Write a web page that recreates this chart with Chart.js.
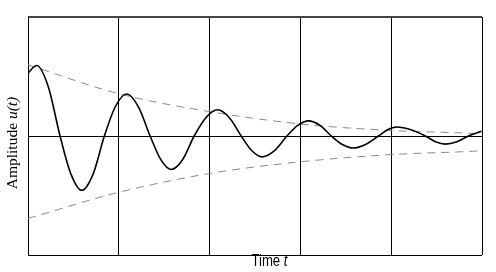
<!DOCTYPE html>
<html><head><meta charset="utf-8">
<script src="https://cdn.jsdelivr.net/npm/chart.js@4/dist/chart.umd.min.js"></script>
<style>html,body{margin:0;padding:0;background:#fff;}#wrap{width:496px;height:272px;}</style>
</head><body><div id="wrap"><canvas id="c" width="496" height="272"></canvas></div>
<script>
// Time grid (periods)
const timeTicks = [0, 1, 2, 3, 4, 5];
// Damped oscillation
const signalT = [0, 0.096, 0.225, 0.353, 0.473, 0.592, 0.717, 0.841, 0.964, 1.086, 1.216, 1.345, 1.461, 1.577, 1.704, 1.830, 1.959, 2.087, 2.218, 2.348, 2.463, 2.577, 2.715, 2.852, 2.971, 3.090, 3.216, 3.341, 3.462, 3.583, 3.718, 3.860, 3.960, 4.059, 4.218, 4.377, 4.487, 4.597, 4.724, 4.851, 4.955, 4.995];
const signalU = [0.530, 0.592, 0.41, 0, -0.32, -0.456, -0.32, 0, 0.25, 0.353, 0.245, 0, -0.197, -0.281, -0.197, 0, 0.154, 0.220, 0.154, 0, -0.122, -0.175, -0.122, 0, 0.089, 0.127, 0.089, 0, -0.071, -0.101, -0.071, 0, 0.053, 0.076, 0.053, 0, -0.048, -0.068, -0.048, 0, 0.030, 0.040];
// Envelope (dashed)
const envT = [0, 1, 2, 3, 4, 5, 5.12];
const envUpper = [0.598, 0.355, 0.205, 0.101, 0.046, 0.017, 0.008];
const envLower = [-0.693, -0.473, -0.315, -0.217, -0.156, -0.123, -0.114];
// Axis titles (normal part, italic part)
const yTitle = ['Amplitude ', 'u(t)'];
const xTitle = ['Time ', 't'];

const toXY = (xs, ys) => xs.map((x, i) => ({x: x, y: ys[i]}));

const titlePlugin = {
  id: 'titles',
  afterDraw(chart) {
    const ctx = chart.ctx;
    const a = chart.chartArea;
    // Y title
    ctx.save();
    ctx.fillStyle = '#000';
    ctx.textBaseline = 'alphabetic';
    ctx.translate(16.5, (a.top + a.bottom) / 2 + 7);
    ctx.rotate(-Math.PI / 2);
    const fN = '15.5px "Liberation Serif", "DejaVu Serif", serif';
    const fI = 'italic 15.5px "Liberation Serif", "DejaVu Serif", serif';
    ctx.font = fN; const w1 = ctx.measureText(yTitle[0]).width;
    ctx.font = fI; const w2 = ctx.measureText(yTitle[1]).width;
    let x0 = -(w1 + w2) / 2;
    ctx.font = fN; ctx.fillText(yTitle[0], x0, 0);
    ctx.font = fI; ctx.fillText(yTitle[1], x0 + w1, 0);
    ctx.restore();
    // X title (condensed sans)
    ctx.save();
    ctx.fillStyle = '#000';
    ctx.textBaseline = 'alphabetic';
    ctx.translate(251.5, 266);
    ctx.scale(0.82, 1);
    const gN = '16px "Liberation Sans", Arial, sans-serif';
    const gI = 'italic 16px "Liberation Sans", Arial, sans-serif';
    ctx.font = gN; const v1 = ctx.measureText(xTitle[0]).width;
    ctx.fillText(xTitle[0], 0, 0);
    ctx.font = gI; ctx.fillText(xTitle[1], v1, 0);
    ctx.restore();
  }
};

new Chart(document.getElementById('c'), {
  type: 'line',
  data: {
    datasets: [
      {
        label: 'u(t)',
        data: toXY(signalT, signalU),
        borderColor: '#000',
        borderWidth: 1.6,
        pointRadius: 0,
        cubicInterpolationMode: 'monotone',
        fill: false,
        order: 1
      },
      {
        label: 'upper envelope',
        data: toXY(envT, envUpper),
        borderColor: '#8a8a8a',
        borderWidth: 1,
        borderDash: [8, 6],
        pointRadius: 0,
        cubicInterpolationMode: 'monotone',
        fill: false,
        clip: {left: 0, top: 0, right: 20, bottom: 0},
        order: 2
      },
      {
        label: 'lower envelope',
        data: toXY(envT, envLower),
        borderColor: '#8a8a8a',
        borderWidth: 1,
        borderDash: [8, 6],
        pointRadius: 0,
        cubicInterpolationMode: 'monotone',
        fill: false,
        clip: {left: 0, top: 0, right: 20, bottom: 0},
        order: 2
      }
    ]
  },
  options: {
    responsive: false,
    devicePixelRatio: 1,
    animation: false,
    layout: {padding: {left: 28, right: 14, top: 17, bottom: 17}},
    plugins: {legend: {display: false}, tooltip: {enabled: false}},
    scales: {
      x: {
        type: 'linear',
        min: timeTicks[0],
        max: timeTicks[timeTicks.length - 1],
        afterBuildTicks: (s) => { s.ticks = timeTicks.map(v => ({value: v})); },
        ticks: {display: false},
        grid: {color: '#000', lineWidth: 1, drawTicks: false},
        border: {display: false}
      },
      y: {
        min: -1,
        max: 1,
        ticks: {display: false, stepSize: 1},
        grid: {
          drawTicks: false,
          color: (c) => (c.tick && c.tick.value === 1) ? '#444' : '#000',
          lineWidth: (c) => (c.tick && c.tick.value === 1) ? 2 : 1
        },
        border: {display: false}
      }
    }
  },
  plugins: [titlePlugin]
});
</script>
</body></html>
